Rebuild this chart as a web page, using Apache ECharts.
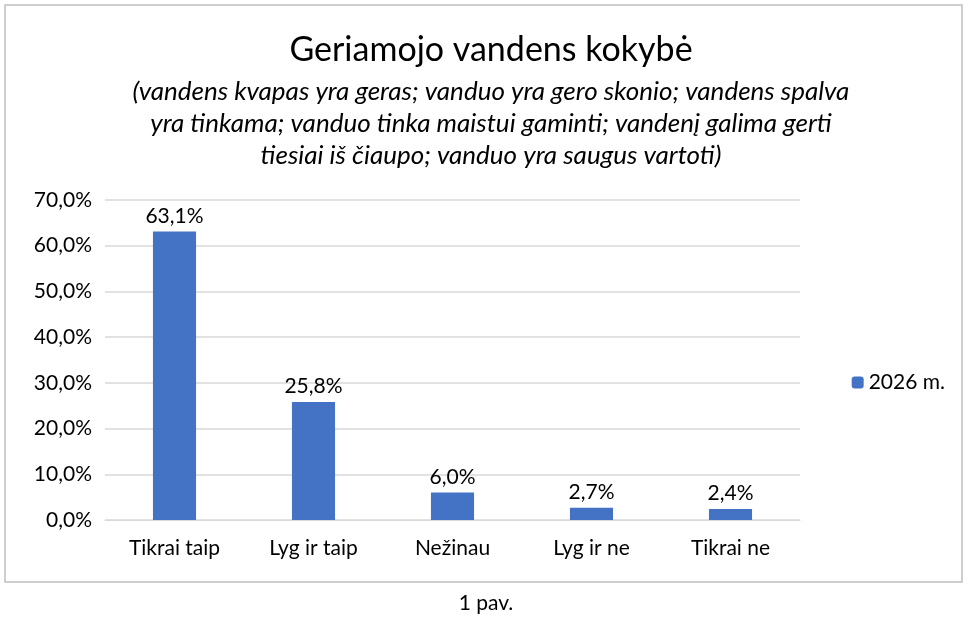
<!DOCTYPE html>
<html>
<head>
<meta charset="utf-8">
<script src="https://cdn.jsdelivr.net/npm/echarts@6/dist/echarts.min.js"></script>
<style>html,body{margin:0;padding:0;background:#fff}#c{width:972px;height:629px}</style>
</head>
<body>
<div id="c"></div>
<script>
const categories = ['Tikrai taip', 'Lyg ir taip', 'Nežinau', 'Lyg ir ne', 'Tikrai ne'];
const values = [63.1, 25.8, 6.0, 2.7, 2.4];
const seriesName = '2026 m.';

const font = 'Lato, "Open Sans", sans-serif';
const fmt = v => v.toFixed(1).replace('.', ',');

const chart = echarts.init(document.getElementById('c'));
chart.setOption({
  animation: false,
  textStyle: { fontFamily: font },
  title: [
    {
      text: 'Geriamojo vandens kokybė',
      left: 486, textAlign: 'center', top: 28,
      textStyle: { fontSize: 34, fontWeight: 'normal', color: '#000', fontFamily: font }
    },
    {
      text: '(vandens kvapas yra geras; vanduo yra gero skonio; vandens spalva\nyra tinkama; vanduo tinka maistui gaminti; vandenį galima gerti\ntiesiai iš čiaupo; vanduo yra saugus vartoti)',
      left: 486, textAlign: 'center', top: 71,
      textStyle: { fontSize: 26, fontStyle: 'italic', fontWeight: 'normal', color: '#000', lineHeight: 32, align: 'center', fontFamily: font }
    }
  ],
  legend: {
    right: 22, top: 367, itemWidth: 12, itemHeight: 12,
    textStyle: { fontSize: 21, color: '#000' }
  },
  grid: { left: 105, right: 172, top: 200, bottom: 109 },
  xAxis: {
    type: 'category', data: categories,
    axisTick: { show: false },
    axisLine: { lineStyle: { color: '#d9d9d9' } },
    axisLabel: { fontSize: 21, color: '#000', margin: 18 }
  },
  yAxis: {
    type: 'value', min: 0, max: 70, interval: 10,
    axisLine: { show: false }, axisTick: { show: false },
    splitLine: { lineStyle: { color: '#d9d9d9', width: 1.5 } },
    axisLabel: { fontSize: 21, color: '#000', margin: 13, formatter: v => fmt(v) + '%' }
  },
  series: [{
    name: seriesName, type: 'bar', data: values, barWidth: '31%',
    itemStyle: { color: '#4472C4' },
    label: { show: true, position: 'top', fontSize: 21, color: '#000', formatter: p => fmt(p.value) + '%' }
  }],
  graphic: [
    { type: 'rect', shape: { x: 5, y: 5, width: 957, height: 577 }, style: { fill: null, stroke: '#bfbfbf', lineWidth: 1.5 } },
    { type: 'text', x: 486, y: 593, style: { text: '1 pav.', fontSize: 21, fill: '#000', align: 'center', fontFamily: font } }
  ]
});
</script>
</body>
</html>
